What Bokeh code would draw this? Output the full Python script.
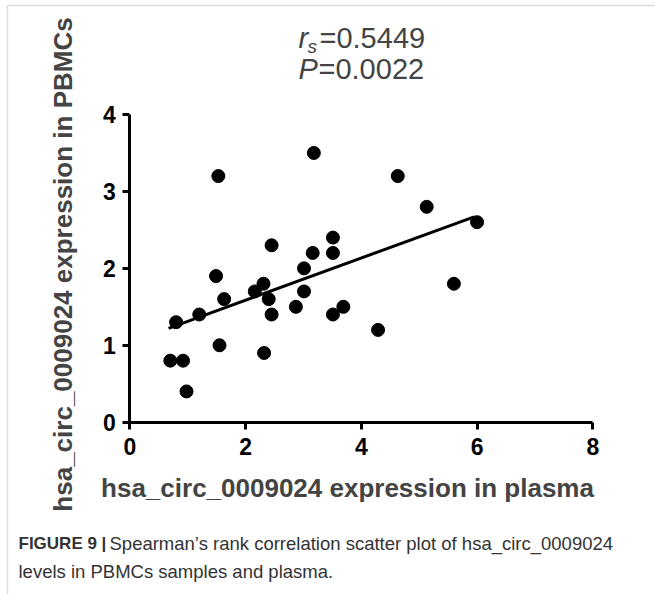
import math
from bokeh.plotting import figure
from bokeh.models import Range1d, Label, FixedTicker, LinearAxis, BoxAnnotation
from bokeh.embed import file_html
from bokeh.resources import INLINE

# ---- data ----
plasma = [0.70, 0.92, 0.98, 0.80, 1.20, 1.53, 1.49, 1.63, 1.55, 2.16, 2.31, 2.32,
          2.40, 2.45, 2.45, 2.87, 3.01, 3.01, 3.16, 3.18, 3.51, 3.51, 3.51, 3.69,
          4.63, 4.29, 5.13, 6.00, 5.60]
pbmcs = [0.80, 0.80, 0.40, 1.30, 1.40, 3.20, 1.90, 1.60, 1.00, 1.70, 1.80, 0.90,
         1.60, 1.40, 2.30, 1.50, 1.70, 2.00, 2.20, 3.50, 2.40, 2.20, 1.40, 1.50,
         3.20, 1.20, 2.80, 2.60, 1.80]
fit_x = [0.67, 5.95]
fit_y = [1.22, 2.67]
x_ticks = [0, 2, 4, 6, 8]
y_ticks = [0, 1, 2, 3, 4]
x_label = "hsa_circ_0009024 expression in plasma"
y_label = "hsa_circ_0009024 expression in PBMCs"
rs_text = "=0.5449"
p_text = "=0.0022"
caption_bold = "FIGURE 9 |"
caption_1 = "Spearman\u2019s rank correlation scatter plot of hsa_circ_0009024"
caption_2 = "levels in PBMCs samples and plasma."

# ---- layout: the frame covers the whole canvas; data box placed in pixels ----
W, H = 655, 594
PX0, PX1 = 129.3, 592.3    # pixel x of x=0 and x=8
PY0, PY1 = 421.7, 114.0    # pixel y of y=0 and y=4
X0, X1, Y0, Y1 = 0, 8, 0, 4

def dx(px):
    return X0 + (px - PX0) / (PX1 - PX0) * (X1 - X0)

def dy(py):
    return Y0 + (PY0 - py) / (PY0 - PY1) * (Y1 - Y0)

p = figure(width=W, height=H, output_backend="svg", toolbar_location=None,
           x_range=Range1d(dx(0), dx(W)), y_range=Range1d(dy(H), dy(0)),
           x_axis_location=None, y_axis_location=None, min_border=0)
p.outline_line_color = None
p.grid.visible = False
p.background_fill_color = "white"
p.border_fill_color = "white"

xax = LinearAxis(fixed_location=Y0, bounds=(X0, X1), ticker=FixedTicker(ticks=x_ticks))
yax = LinearAxis(fixed_location=X0, bounds=(Y0, Y1), ticker=FixedTicker(ticks=y_ticks))
for ax in (xax, yax):
    ax.axis_line_width = 3
    ax.major_tick_line_width = 3
    ax.major_tick_out = 7
    ax.major_tick_in = 0
    ax.minor_tick_line_color = None
    ax.major_label_text_font = "Liberation Sans"
    ax.major_label_text_font_style = "bold"
    ax.major_label_text_font_size = "23px"
    ax.major_label_text_color = "black"
xax.major_label_standoff = 9
yax.major_label_standoff = 7
p.add_layout(xax, "below")
p.add_layout(yax, "left")

p.line(fit_x, fit_y, line_color="black", line_width=3)
p.scatter(plasma, pbmcs, size=13, marker="circle", fill_color="black", line_color="black")

font = "Liberation Sans"
# axis titles
p.add_layout(Label(x=dx(347), y=dy(487), text=x_label, text_font=font, text_font_style="bold",
                   text_font_size="26px", text_align="center", text_baseline="middle"))
p.add_layout(Label(x=dx(62), y=dy(264), text=y_label, text_font=font, text_font_style="bold",
                   text_font_size="26px", text_align="center", text_baseline="middle",
                   angle=math.pi / 2))

# statistics text
p.add_layout(Label(x=dx(298), y=dy(37), text="r", text_font=font, text_font_style="italic",
                   text_font_size="29px", text_baseline="middle", text_align="left"))
p.add_layout(Label(x=dx(307), y=dy(46), text="s", text_font=font, text_font_style="italic",
                   text_font_size="19px", text_baseline="middle", text_align="left"))
p.add_layout(Label(x=dx(319), y=dy(37), text=rs_text, text_font=font,
                   text_font_size="29px", text_baseline="middle", text_align="left"))
p.add_layout(Label(x=dx(298), y=dy(68), text="P", text_font=font, text_font_style="italic",
                   text_font_size="29px", text_baseline="middle", text_align="left"))
p.add_layout(Label(x=dx(318), y=dy(68), text=p_text, text_font=font,
                   text_font_size="29px", text_baseline="middle", text_align="left"))

# caption
cap_col = "#333333"
p.add_layout(Label(x=dx(18), y=dy(543), text=caption_bold, text_font=font, text_font_style="bold",
                   text_font_size="17px", text_baseline="middle", text_color=cap_col))
p.add_layout(Label(x=dx(109), y=dy(543), text=caption_1, text_font=font,
                   text_font_size="18.5px", text_baseline="middle", text_color=cap_col))
p.add_layout(Label(x=dx(18), y=dy(571), text=caption_2, text_font=font,
                   text_font_size="18.5px", text_baseline="middle", text_color=cap_col))

# grey frame (top and left edges visible; the rest lies outside the canvas)
p.add_layout(BoxAnnotation(left=dx(7), right=dx(700), top=dy(5), bottom=dy(700),
                           fill_color=None, fill_alpha=0, line_color="#8a8a8a", line_width=1.5))

open("out.html", "w").write(file_html(p, INLINE))
